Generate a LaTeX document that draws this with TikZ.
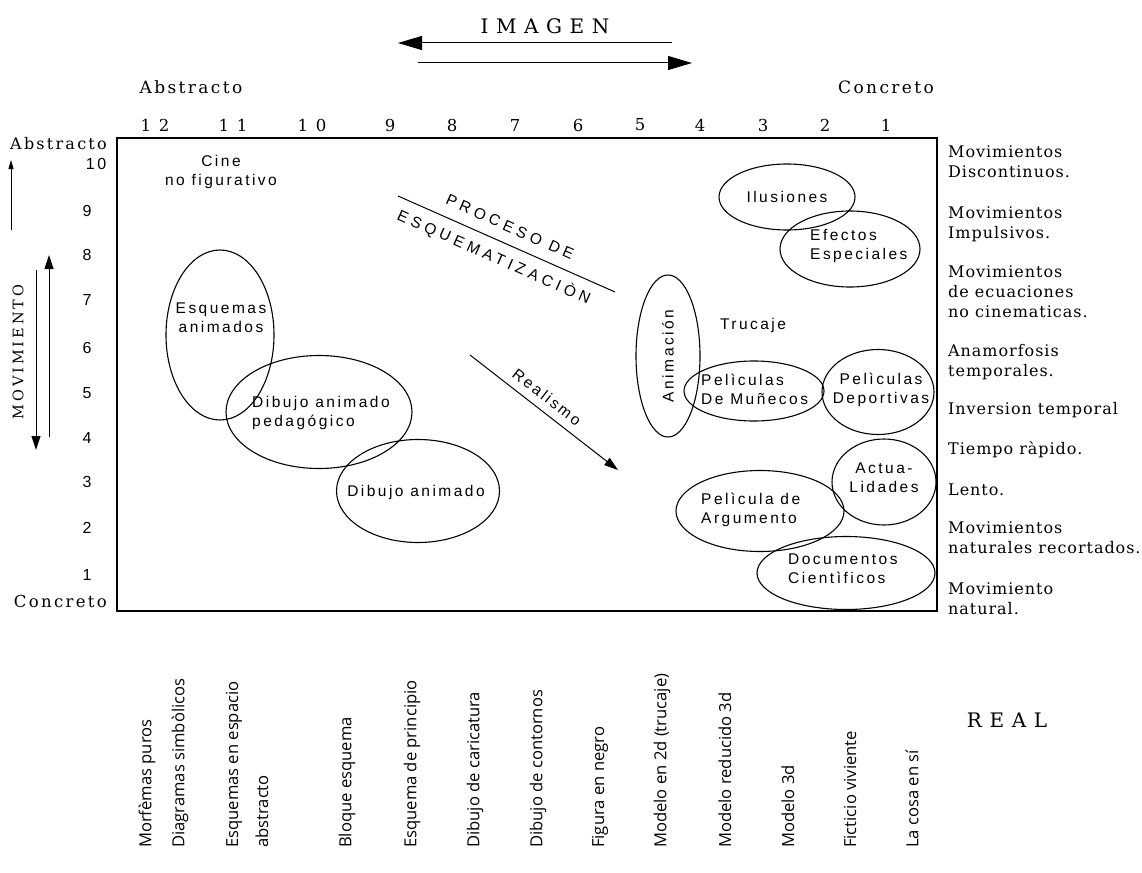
\documentclass[tikz,border=0pt]{standalone}
\usepackage{fontspec}
\usetikzlibrary{arrows.meta,shapes.geometric}
\newfontfamily\serf[LetterSpace=6]{DejaVu Serif}
\newfontfamily\serm[LetterSpace=14]{DejaVu Serif}
\newfontfamily\serv[LetterSpace=20]{DejaVu Serif}
\newfontfamily\serw[LetterSpace=38]{DejaVu Serif}
\newfontfamily\sanf[LetterSpace=16]{Liberation Sans}
\newfontfamily\sanw[LetterSpace=28]{Liberation Sans}
\newfontfamily\botf{Open Sans}
\begin{document}
\begin{tikzpicture}[x=1pt,y=-1pt,
  ell/.style={draw, ellipse, inner sep=0pt, line width=1.1pt},
  etxt/.style={font=\sanf\fontsize{15.5}{19}\selectfont, align=center, inner sep=0pt},
  ltxt/.style={font=\sanf\fontsize{15.5}{19}\selectfont, align=left, anchor=west, inner sep=0pt},
  rlab/.style={font=\serf\fontsize{16}{20}\selectfont, anchor=west, align=left, inner sep=0pt},
  num/.style={font=\serm\fontsize{16.5}{18}\selectfont, inner sep=0pt},
  lnum/.style={font=\sanf\fontsize{16}{17}\selectfont, inner sep=0pt},
  bot/.style={font=\botf\fontsize{16.6}{30}\selectfont, rotate=90, anchor=west, align=left, inner sep=0pt},
  big/.style={-{Triangle[length=24pt,width=14pt]}, line width=1pt},
  mid/.style={-{Triangle[length=14pt,width=9pt]}, line width=1pt},
  thin/.style={-{Triangle[length=9pt,width=5pt]}, line width=0.9pt}]
\useasboundingbox (0,0) rectangle (1142,872);
\fill[white] (0,0) rectangle (1142,872);

% header
\node[font=\serw\fontsize{20}{22}\selectfont] (imagen) at (545,26) {IMAGEN};
\coordinate (la1) at (672,43); \coordinate (la2) at (398,43);
\coordinate (ra1) at (418,63); \coordinate (ra2) at (692,63);
\draw[big] (la1) -- (la2);
\draw[big] (ra1) -- (ra2);
\node[font=\serm\fontsize{17}{18}\selectfont] (abs) at (191,87) {Abstracto};
\node[font=\serm\fontsize{17}{18}\selectfont] (con) at (886,87) {Concreto};

% top numbers
\foreach \t/\x [count=\i] in {1 2/155,1 1/233,1 0/312,9/390,8/452,7/515,6/578,5/640,4/700,3/763,2/825,1/886}
  \node[num] (tn\i) at (\x,125) {\t};

% box
\node[draw, line width=1.5pt, minimum width=820pt, minimum height=473pt, anchor=north west, inner sep=0pt] (box) at (116,137) {};

% left axis
\node[font=\serm\fontsize{16}{18}\selectfont, anchor=east, inner sep=0pt] (labs) at (107,144) {Abstracto};
\node[font=\serm\fontsize{16.5}{18}\selectfont, anchor=east, inner sep=0pt] (lcon) at (107,601) {Concreto};
\node[lnum] (ln10) at (96,164) {10};
\foreach \n/\y in {9/211,8/255,7/300,6/348,5/393,4/438,3/482,2/528,1/575}
  \node[lnum] (ln\n) at (87,\y) {\n};
\coordinate (sa1) at (11,230); \coordinate (sa2) at (11,160);
\draw[thin] (sa1) -- (sa2);
\node[font=\serv\fontsize{14.5}{16}\selectfont, rotate=90] (mov) at (18,352) {MOVIMIENTO};
\coordinate (da1) at (36,270); \coordinate (da2) at (36,450);
\draw[mid] (da1) -- (da2);
\coordinate (ua1) at (49,437); \coordinate (ua2) at (49,255);
\draw[mid] (ua1) -- (ua2);

% right labels
\node[rlab] (r1) at (948,162) {Movimientos\\Discontinuos.};
\node[rlab] (r2) at (948,224) {Movimientos\\Impulsivos.};
\node[rlab] (r3) at (948,292) {Movimientos\\de ecuaciones\\no cinematicas.};
\node[rlab] (r4) at (948,362) {Anamorfosis\\temporales.};
\node[rlab] (r5) at (948,410) {Inversion temporal};
\node[rlab] (r6) at (948,450) {Tiempo ràpido.};
\node[rlab] (r7) at (948,490) {Lento.};
\node[rlab] (r8) at (948,538) {Movimientos\\naturales recortados.};
\node[rlab] (r9) at (948,599) {Movimiento\\natural.};

% inner texts
\node[etxt] (cine) at (221,172) {Cine\\no figurativo};
\node[etxt] (truc) at (753,325) {Trucaje};

% ellipses
\node[ell, minimum width=108pt, minimum height=170pt] (e1) at (220,335) {};
\node[etxt] (t1) at (221,318) {Esquemas\\animados};
\node[ell, minimum width=186pt, minimum height=113pt] (e2) at (319,412) {};
\node[ltxt] (t2) at (252,413) {Dibujo animado\\pedagógico};
\node[ell, minimum width=163pt, minimum height=103pt] (e3) at (418,491) {};
\node[etxt] (t3) at (416,492) {Dibujo animado};
\node[ell, minimum width=136pt, minimum height=66pt] (e4) at (787,197) {};
\node[etxt] (t4) at (787,197) {Ilusiones};
\node[ell, minimum width=140pt, minimum height=76pt] (e5) at (850,249) {};
\node[ltxt] (t5) at (810,246) {Efectos\\Especiales};
\node[ell, minimum width=64pt, minimum height=162pt] (e6) at (668,356) {};
\node[etxt, rotate=90] (t6) at (668,356) {Animación};
\node[ell, minimum width=140pt, minimum height=60pt] (e7) at (754,391) {};
\node[ltxt] (t7) at (701,389) {Pelìculas\\De Muñecos};
\node[ell, minimum width=112pt, minimum height=85pt] (e8) at (878,392) {};
\node[etxt] (t8) at (881,390) {Pelìculas\\Deportivas};
\node[ell, minimum width=168pt, minimum height=81pt] (e9) at (760,511) {};
\node[ltxt] (t9) at (701,510) {Pelìcula de\\Argumento};
\node[ell, minimum width=104pt, minimum height=86pt] (e10) at (884,482) {};
\node[etxt] (t10) at (884,478) {Actua-\\Lidades};
\node[ell, minimum width=178pt, minimum height=73pt] (e11) at (846,573) {};
\node[ltxt] (t11) at (788,569) {Documentos\\Cientìficos};

% proceso
\coordinate (p1) at (398,196); \coordinate (p2) at (615,292);
\draw[line width=1pt] (p1) -- (p2);
\node[font=\sanw\fontsize{15.5}{17}\selectfont, rotate=-24, inner sep=0pt] (pr1) at (510,227) {PROCESO DE};
\node[font=\sanw\fontsize{15.5}{17}\selectfont, rotate=-24, inner sep=0pt] (pr2) at (494,257) {ESQUEMATIZACIÒN};

% realismo
\coordinate (rr1) at (470,355); \coordinate (rr2) at (618,470);
\draw[mid] (rr1) -- (rr2);
\node[font=\sanf\fontsize{15.5}{17}\selectfont, rotate=-37.8, inner sep=0pt] (real) at (547,397) {Realismo};

% bottom
\node[font=\serw\fontsize{20}{22}\selectfont] (REAL) at (1007,720) {REAL};
\node[bot] (b1) at (147,848) {Morfèmas puros};
\node[bot] (b2) at (180,848) {Diagramas simbòlicos};
\node[bot] (b3) at (247,848) {Esquemas en espacio\\abstracto};
\node[bot] (b4) at (347,848) {Bloque esquema};
\node[bot] (b5) at (412,848) {Esquema de principio};
\node[bot] (b6) at (475,848) {Dibujo de caricatura};
\node[bot] (b7) at (538,848) {Dibujo de contornos};
\node[bot] (b8) at (600,848) {Figura en negro};
\node[bot] (b9) at (662,848) {Modelo en 2d (trucaje)};
\node[bot] (b10) at (725,848) {Modelo reducido 3d};
\node[bot] (b11) at (788,848) {Modelo 3d};
\node[bot] (b12) at (850,848) {Ficticio viviente};
\node[bot] (b13) at (912,848) {La cosa en sí};
\end{tikzpicture}
\end{document}
